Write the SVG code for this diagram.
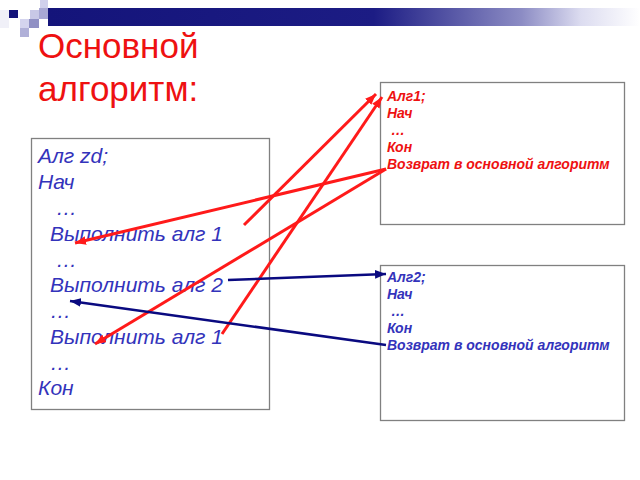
<svg xmlns="http://www.w3.org/2000/svg" width="640" height="480" viewBox="0 0 640 480">
<defs>
<linearGradient id="bar" x1="0" y1="0" x2="1" y2="0">
<stop offset="0" stop-color="#14147a"/>
<stop offset="0.55" stop-color="#1c1c84"/>
<stop offset="0.8" stop-color="#8c8cc4"/>
<stop offset="0.9" stop-color="#dcdcf0"/>
<stop offset="1" stop-color="#ffffff"/>
</linearGradient>
<marker id="ar" viewBox="0 0 10 8" refX="10" refY="4" markerWidth="11" markerHeight="9" markerUnits="userSpaceOnUse" orient="auto">
<path d="M0,0 L10,4 L0,8 Z" fill="#ff1a1a"/>
</marker>
<marker id="an" viewBox="0 0 10 8" refX="10" refY="4" markerWidth="11" markerHeight="9" markerUnits="userSpaceOnUse" orient="auto">
<path d="M0,0 L10,4 L0,8 Z" fill="#0a0a80"/>
</marker>
<style>
.box{fill:#ffffff;stroke:#808080;stroke-width:1.3}
.title{font-family:"Liberation Sans",Arial,sans-serif;font-size:35px;fill:#ee1111}
.main{font-family:"Liberation Sans",Arial,sans-serif;font-size:21px;font-style:italic;fill:#3333bb}
.sub{font-family:"Liberation Sans",Arial,sans-serif;font-size:14px;font-style:italic;font-weight:bold}
.red{fill:#ee1111}
.blue{fill:#3333bb}
.lr{stroke:#ff1a1a;stroke-width:3;fill:none}
.ln{stroke:#0a0a80;stroke-width:2.5;fill:none}
</style>
</defs>
<rect width="640" height="480" fill="#ffffff"/>
<g id="decor">
<rect x="48" y="8" width="592" height="18" fill="url(#bar)"/>
<rect x="40" y="0" width="8" height="8" fill="#d0d0ec"/>
<rect x="9" y="10" width="9" height="8" fill="#14147a"/>
<rect x="0" y="10" width="9" height="18" fill="#f0f0f8"/>
<rect x="30" y="10" width="9" height="9" fill="#c8c8e6"/>
<rect x="39" y="8" width="9" height="11" fill="#a8a8d4"/>
<rect x="20" y="19" width="9" height="9" fill="#d4d4ee"/>
<rect x="29" y="19" width="10" height="9" fill="#9090c4"/>
<rect x="20" y="28" width="9" height="9" fill="#b0b0d8"/>
</g>
<g id="title">
<text class="title" x="38" y="58">Основной</text>
<text class="title" x="38" y="101">алгоритм:</text>
</g>
<g id="main">
<rect class="box" x="31.5" y="138.5" width="238" height="271"/>
<text class="main" x="38" y="163">Алг zd;</text>
<text class="main" x="38" y="189">Нач</text>
<text class="main" x="56" y="215">…</text>
<text class="main" x="50" y="241">Выполнить алг 1</text>
<text class="main" x="56" y="267">…</text>
<text class="main" x="50" y="292">Выполнить алг 2</text>
<text class="main" x="50" y="318">…</text>
<text class="main" x="50" y="344">Выполнить алг 1</text>
<text class="main" x="50" y="370">…</text>
<text class="main" x="38" y="395">Кон</text>
</g>
<g id="alg1">
<rect class="box" x="380.5" y="82.5" width="244" height="142"/>
<text class="sub red" x="387" y="101">Алг1;</text>
<text class="sub red" x="387" y="118">Нач</text>
<text class="sub red" x="391" y="135">…</text>
<text class="sub red" x="387" y="152">Кон</text>
<text class="sub red" x="387" y="169">Возврат в основной алгоритм</text>
</g>
<g id="alg2">
<rect class="box" x="380.5" y="265.5" width="244" height="155"/>
<text class="sub blue" x="387" y="282">Алг2;</text>
<text class="sub blue" x="387" y="299">Нач</text>
<text class="sub blue" x="391" y="316">…</text>
<text class="sub blue" x="387" y="333">Кон</text>
<text class="sub blue" x="387" y="350">Возврат в основной алгоритм</text>
</g>
<g id="connectors">
<line class="lr" x1="244" y1="225" x2="376" y2="94" marker-end="url(#ar)"/>
<line class="lr" x1="222" y1="334" x2="382" y2="97" marker-end="url(#ar)"/>
<line class="lr" x1="386" y1="169" x2="75" y2="243" marker-end="url(#ar)"/>
<line class="lr" x1="386" y1="169" x2="95" y2="344" marker-end="url(#ar)"/>
<line class="ln" x1="228" y1="280" x2="386" y2="274" marker-end="url(#an)"/>
<line class="ln" x1="386" y1="345" x2="70" y2="301" marker-end="url(#an)"/>
</g>
</svg>
